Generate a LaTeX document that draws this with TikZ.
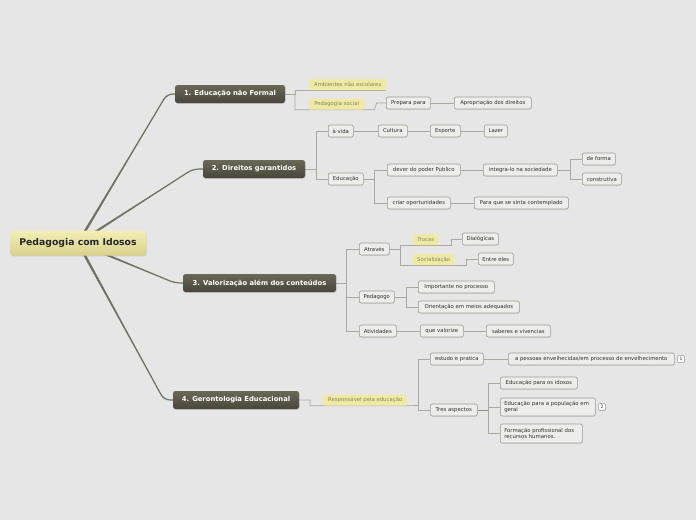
\documentclass[tikz,border=0pt]{standalone}
\usepackage{fontspec}
\setmainfont{DejaVu Sans}
\usetikzlibrary{shadows}
\definecolor{bg}{HTML}{E6E6E6}
\definecolor{mainline}{HTML}{747264}
\definecolor{subline}{HTML}{A8A8A0}
\definecolor{leafline}{HTML}{9C9C94}
\definecolor{leaffill}{HTML}{EDEDEB}
\definecolor{leaftext}{HTML}{2E2E2E}
\definecolor{tagfill}{HTML}{EEEAA6}
\definecolor{tagtext}{HTML}{85845A}
\definecolor{toptop}{HTML}{6A6856}
\definecolor{topbot}{HTML}{48463C}
\definecolor{roottop}{HTML}{F3EFB5}
\definecolor{rootbot}{HTML}{D8D08E}
\pgfdeclarelayer{back}
\pgfdeclarelayer{lines}
\pgfsetlayers{back,lines,main}
\begin{document}
\begin{tikzpicture}[x=1pt,y=-1pt,
  leaf/.style={draw=leafline, fill=leaffill, rounded corners=2pt, line width=0.6pt,
    font=\fontsize{5.35}{6.4}\selectfont, text=leaftext, minimum height=12pt,
    inner sep=0pt, anchor=west,
    drop shadow={shadow xshift=0.4pt, shadow yshift=-0.6pt, opacity=0.2}},
  tag/.style={fill=tagfill, rounded corners=1pt, font=\fontsize{5.35}{6.4}\selectfont,
    text=tagtext, minimum height=11pt, inner sep=0pt, anchor=west},
  topic/.style={rounded corners=2.5pt, top color=toptop, bottom color=topbot,
    text=white, font=\bfseries\fontsize{6.8}{8}\selectfont, minimum height=18pt,
    inner sep=0pt, drop shadow={shadow xshift=0.6pt, shadow yshift=-0.9pt, opacity=0.3}},
  rootbox/.style={rounded corners=3pt, top color=roottop, bottom color=rootbot,
    text=black!85, font=\bfseries\fontsize{9.3}{11}\selectfont, minimum height=25pt,
    inner sep=0pt, drop shadow={shadow xshift=0.6pt, shadow yshift=-0.9pt, opacity=0.25}},
  marker/.style={draw=leafline, fill=white, rounded corners=1pt, line width=0.5pt,
    font=\fontsize{4.5}{5}\selectfont, text=leaftext, minimum size=7pt, inner sep=0pt},
  mainconn/.style={draw=mainline, line width=1.2pt, rounded corners=6pt},
  subconn/.style={draw=subline, line width=0.7pt}
]
\begin{pgfonlayer}{back}
\fill[bg] (0,0) rectangle (696,520);
\end{pgfonlayer}
\useasboundingbox (0,0) rectangle (696,520);

% root and topics
\node[rootbox, minimum width=136pt] (root) at (78,243) {Pedagogia com Idosos};
\node[topic, minimum width=110pt] (t1) at (230,94) {1. Educação não Formal};
\node[topic, minimum width=102pt] (t2) at (254,169) {2. Direitos garantidos};
\node[topic, minimum width=153pt] (t3) at (259.5,283) {3. Valorização além dos conteúdos};
\node[topic, minimum width=126pt] (t4) at (236,400) {4. Gerontologia Educacional};

% topic 1
\node[tag, minimum width=77pt] (amb) at (309,84.5) {Ambientes não escolares};
\node[tag, minimum width=55pt] (ps) at (309,104) {Pedagogia social};
\node[leaf, minimum width=44pt] (prep) at (386,103) {Prepara para};
\node[leaf, minimum width=77pt] (apr) at (454,103) {Apropriação dos direitos};

% topic 2
\node[leaf, minimum width=25pt] (vida) at (328,131) {à vida};
\node[leaf, minimum width=29pt] (cult) at (378,131) {Cultura};
\node[leaf, minimum width=30pt] (esp) at (430,131) {Esporte};
\node[leaf, minimum width=23pt] (laz) at (484,131) {Lazer};
\node[leaf, minimum width=35pt] (edu) at (328,179) {Educação};
\node[leaf, minimum width=73pt] (dever) at (387,170) {dever do poder Publico};
\node[leaf, minimum width=74pt] (integ) at (483,170) {integra-lo na sociedade};
\node[leaf, minimum width=33pt] (forma) at (582,159) {de forma};
\node[leaf, minimum width=39pt] (constr) at (582,179) {construtiva};
\node[leaf, minimum width=63pt] (criar) at (387,203) {criar oportunidades};
\node[leaf, minimum width=94pt] (para) at (474,203) {Para que se sinta contemplado};

% topic 3
\node[leaf, minimum width=30pt] (atr) at (359,249) {Através};
\node[tag, minimum width=25pt] (troc) at (413,239.5) {Trocas};
\node[leaf, minimum width=36pt] (dial) at (462,239) {Dialógicas};
\node[tag, minimum width=41pt] (soc) at (413,259.5) {Socialização};
\node[leaf, minimum width=35pt] (entre) at (478,259) {Entre eles};
\node[leaf, minimum width=35pt] (pedg) at (359,297) {Pedagogo};
\node[leaf, minimum width=76pt] (imp) at (418,287) {Importante no processo};
\node[leaf, minimum width=101pt] (ori) at (418,307) {Orientação em meios adequados};
\node[leaf, minimum width=37pt] (ativ) at (359,331) {Atividades};
\node[leaf, minimum width=43pt] (quev) at (420,331) {que valorize};
\node[leaf, minimum width=64pt] (sab) at (486,331) {saberes e vivencias};

% topic 4
\node[tag, minimum width=84pt] (resp) at (323,400) {Responsável pela educação};
\node[leaf, minimum width=53pt] (est) at (430,359) {estudo e pratica};
\node[leaf, minimum width=166pt] (apes) at (508,359) {a pessoas envelhecidas/em processo de envelhecimento};
\node[marker] (m1) at (681,359) {1};
\node[leaf, minimum width=47pt] (tres) at (430,410) {Tres aspectos};
\node[leaf, minimum width=77pt] (eid) at (500,383) {Educação para os idosos};
\node[leaf, text width=87pt, inner xsep=4pt, inner ysep=2pt, align=left, minimum height=18pt] (epop) at (500,407) {Educação para a população em\\geral};
\node[marker] (m2) at (602,407) {2};
\node[leaf, text width=74pt, inner xsep=4pt, inner ysep=2pt, align=left, minimum height=19pt] (form) at (500,433.5) {Formação profissional dos\\recursos humanos.};

\begin{pgfonlayer}{lines}
% main connectors (line plus a taper near the root)
\draw[mainconn] (root.center) -- (167,94) -- (t1.west);
\draw[mainconn] (root.center) -- (193,169) -- (t2.west);
\draw[mainconn] (root.center) -- (175,283) -- (t3.west);
\draw[mainconn] (root.center) -- (164,400) -- (t4.west);
\fill[mainline] ([xshift=-1.6pt]root.center) -- ([xshift=1.6pt]root.center) -- (167,94) -- cycle;
\fill[mainline] ([yshift=-1.6pt]root.center) -- ([yshift=1.6pt]root.center) -- (193,169) -- cycle;
\fill[mainline] ([yshift=-1.6pt]root.center) -- ([yshift=1.6pt]root.center) -- (175,283) -- cycle;
\fill[mainline] ([xshift=-1.6pt]root.center) -- ([xshift=1.6pt]root.center) -- (164,400) -- cycle;

% topic 1
\draw[subconn] (t1.east) -- (295,94) |- (amb.south west) -- (amb.south east);
\draw[subconn] (295,94) |- (ps.south west) -- (ps.south east) -- ++(10,0) -- ++(2,-6) |- (prep.west);
\draw[subconn] (prep.east) -- (apr.west);

% topic 2
\draw[subconn] (t2.east) -- (316,169) |- (vida.west);
\draw[subconn] (316,169) |- (edu.west);
\draw[subconn] (vida.east) -- (cult.west);
\draw[subconn] (cult.east) -- (esp.west);
\draw[subconn] (esp.east) -- (laz.west);
\draw[subconn] (edu.east) -- (374,179) |- (dever.west);
\draw[subconn] (374,179) |- (criar.west);
\draw[subconn] (dever.east) -- (integ.west);
\draw[subconn] (integ.east) -- (570,170) |- (forma.west);
\draw[subconn] (570,170) |- (constr.west);
\draw[subconn] (criar.east) -- (para.west);

% topic 3
\draw[subconn] (t3.east) -- (346,283) |- (atr.west);
\draw[subconn] (346,283) |- (pedg.west);
\draw[subconn] (346,283) |- (ativ.west);
\draw[subconn] (atr.east) -- (400,249) |- (troc.south west) -- (troc.south east) -- ++(13,0) |- (dial.west);
\draw[subconn] (400,249) |- (soc.south west) -- (soc.south east) -- ++(12,0) |- (entre.west);
\draw[subconn] (pedg.east) -- (406,297) |- (imp.west);
\draw[subconn] (406,297) |- (ori.west);
\draw[subconn] (ativ.east) -- (quev.west);
\draw[subconn] (quev.east) -- (sab.west);

% topic 4
\draw[subconn] (t4.east) -- (310,400) |- (resp.south west) -- (resp.south east) -- (418,405.5);
\draw[subconn] (est.west) -| (418,410) -- (tres.west);
\draw[subconn] (est.east) -- (apes.west);
\draw[subconn, line width=0.9pt, draw=mainline!80] (tres.east) -- (488,410);
\draw[subconn] (eid.west) -| (488,433.5) -- (form.west);
\draw[subconn] (488,407) -- (epop.west);
\end{pgfonlayer}
\end{tikzpicture}
\end{document}
